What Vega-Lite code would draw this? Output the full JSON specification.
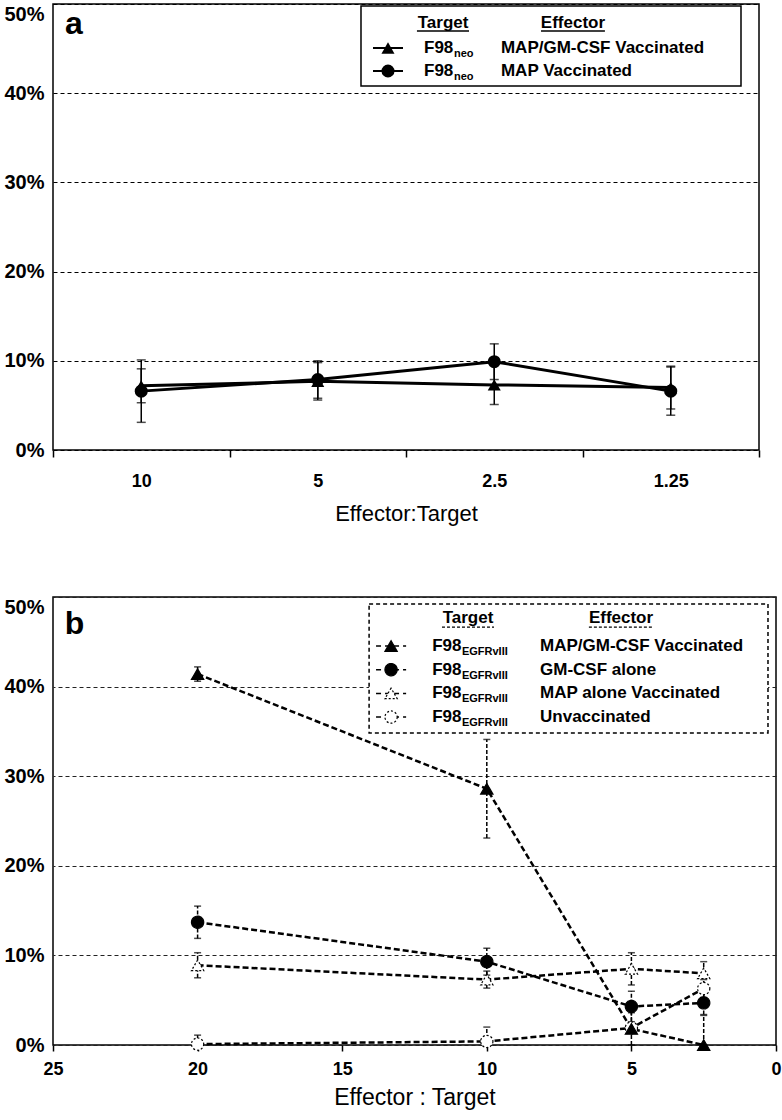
{
  "$schema": "https://vega.github.io/schema/vega-lite/v6.json",
  "padding": {"left": 3, "top": 3, "right": 0, "bottom": 0},
  "spacing": 71,
  "config": {
    "view": {"stroke": "black", "strokeWidth": 1.5},
    "font": "Liberation Sans",
    "axis": {"labelFont": "Liberation Sans", "titleFont": "Liberation Sans", "labelColor": "black", "titleColor": "black", "tickColor": "black"},
    "text": {"font": "Liberation Sans", "color": "black"}
  },
  "resolve": {"scale": {"x": "independent", "y": "independent", "shape": "independent", "fill": "independent", "strokeDash": "independent"}},
  "vconcat": [
    {
      "width": 706,
      "height": 446,
      "resolve": {"scale": {"x": "independent", "y": "independent"}},
      "layer": [
        {
          "data": {"values": [
            {"ratio": "10", "series": "MAP/GM-CSF Vaccinated", "value": 7.2, "err": 1.9},
            {"ratio": "5", "series": "MAP/GM-CSF Vaccinated", "value": 7.7, "err": 2.1},
            {"ratio": "2.5", "series": "MAP/GM-CSF Vaccinated", "value": 7.3, "err": 2.2},
            {"ratio": "1.25", "series": "MAP/GM-CSF Vaccinated", "value": 7.0, "err": 2.4},
            {"ratio": "10", "series": "MAP Vaccinated", "value": 6.6, "err": 3.5},
            {"ratio": "5", "series": "MAP Vaccinated", "value": 7.9, "err": 2.1},
            {"ratio": "2.5", "series": "MAP Vaccinated", "value": 9.9, "err": 2.0},
            {"ratio": "1.25", "series": "MAP Vaccinated", "value": 6.6, "err": 2.7}
          ]},
          "encoding": {
            "x": {
              "field": "ratio", "type": "ordinal", "sort": ["10", "5", "2.5", "1.25"],
              "scale": {"type": "band", "paddingInner": 0, "paddingOuter": 0},
              "axis": {"title": "Effector:Target", "tickBand": "extent", "labelAngle": 0, "labelFontWeight": "bold", "labelFontSize": 18, "tickSize": 7, "tickWidth": 1.5, "labelPadding": 15, "titleFontSize": 22, "titleFontWeight": "normal", "titlePadding": 13, "domain": false, "grid": false}
            }
          },
          "layer": [
            {
              "mark": {"type": "errorbar", "ticks": {"size": 9, "thickness": 1.5, "color": "black"}, "rule": {"strokeWidth": 1.5, "color": "black"}},
              "encoding": {
                "y": {"field": "value", "type": "quantitative", "scale": {"domain": [0, 50], "nice": false, "zero": true, "clamp": true},
                  "axis": {"title": null, "values": [0, 10, 20, 30, 40, 50], "labelExpr": "datum.value + '%'", "ticks": false, "domain": false, "labelPadding": 9, "labelFontSize": 20, "labelFontWeight": "bold",
                    "labelBaseline": {"condition": {"test": "datum.value >= 50", "value": "top"}, "value": "middle"},
                    "grid": true, "gridDash": [4, 3], "gridColor": "black", "gridWidth": 1}},
                "yError": {"field": "err"}
              }
            },
            {
              "mark": {"type": "line", "color": "black", "strokeWidth": 3},
              "encoding": {
                "y": {"field": "value", "type": "quantitative"},
                "detail": {"field": "series"}
              }
            },
            {
              "mark": {"type": "point", "filled": true, "color": "black", "size": 170, "opacity": 1},
              "encoding": {
                "y": {"field": "value", "type": "quantitative"},
                "shape": {"field": "series", "type": "nominal", "scale": {"domain": ["MAP/GM-CSF Vaccinated", "MAP Vaccinated"], "range": ["triangle-up", "circle"]}, "legend": null}
              }
            }
          ]
        },
        {
          "data": {"values": [
            {"row": 1, "series": "MAP/GM-CSF Vaccinated", "target": "F98", "sub": "neo", "effector": "MAP/GM-CSF Vaccinated"},
            {"row": 2, "series": "MAP Vaccinated", "target": "F98", "sub": "neo", "effector": "MAP Vaccinated"}
          ]},
          "layer": [
            {
              "data": {"values": [{"label": "legend"}]},
              "mark": {"type": "rect", "fill": "white", "stroke": "black", "strokeWidth": 1.5},
              "encoding": {
                "x": {"datum": 1.745, "type": "quantitative", "scale": {"domain": [0, 4], "nice": false, "zero": false}, "axis": null},
                "x2": {"datum": 3.898},
                "y": {"datum": -0.826, "type": "quantitative", "scale": {"domain": [-0.913, 18.478], "reverse": true, "nice": false, "zero": false}, "axis": null},
                "y2": {"datum": 2.652}
              }
            },
            {
              "data": {"values": [{"label": "a"}]},
              "mark": {"type": "text", "fontSize": 32, "fontWeight": "bold", "align": "left", "baseline": "alphabetic"},
              "encoding": {
                "x": {"datum": 0.068, "type": "quantitative"},
                "y": {"datum": 0.391, "type": "quantitative"},
                "text": {"field": "label"}
              }
            },
            {
              "data": {"values": [{"label": "Target"}]},
              "mark": {"type": "text", "fontSize": 17, "fontWeight": "bold", "align": "center", "baseline": "middle"},
              "encoding": {
                "x": {"datum": 2.21, "type": "quantitative"},
                "y": {"datum": -0.087, "type": "quantitative"},
                "text": {"field": "label"}
              }
            },
            {
              "data": {"values": [{"label": "Target"}]},
              "mark": {"type": "rule", "color": "black", "strokeWidth": 1.3},
              "encoding": {
                "x": {"datum": 2.062, "type": "quantitative"},
                "x2": {"datum": 2.357},
                "y": {"datum": 0.26, "type": "quantitative"}
              }
            },
            {
              "data": {"values": [{"label": "Effector"}]},
              "mark": {"type": "text", "fontSize": 17, "fontWeight": "bold", "align": "center", "baseline": "middle"},
              "encoding": {
                "x": {"datum": 2.946, "type": "quantitative"},
                "y": {"datum": -0.087, "type": "quantitative"},
                "text": {"field": "label"}
              }
            },
            {
              "data": {"values": [{"label": "Effector"}]},
              "mark": {"type": "rule", "color": "black", "strokeWidth": 1.3},
              "encoding": {
                "x": {"datum": 2.765, "type": "quantitative"},
                "x2": {"datum": 3.127},
                "y": {"datum": 0.26, "type": "quantitative"}
              }
            },
            {
              "mark": {"type": "rule", "color": "black", "strokeWidth": 2},
              "encoding": {
                "x": {"datum": 1.813, "type": "quantitative"},
                "x2": {"datum": 1.983},
                "y": {"field": "row", "type": "quantitative"}
              }
            },
            {
              "mark": {"type": "point", "filled": true, "color": "black", "size": 170, "opacity": 1},
              "encoding": {
                "x": {"datum": 1.898, "type": "quantitative"},
                "y": {"field": "row", "type": "quantitative"},
                "shape": {"field": "series", "type": "nominal", "legend": null}
              }
            },
            {
              "mark": {"type": "text", "fontSize": 17, "fontWeight": "bold", "align": "left", "baseline": "middle"},
              "encoding": {
                "x": {"datum": 2.102, "type": "quantitative"},
                "y": {"field": "row", "type": "quantitative"},
                "text": {"field": "target"}
              }
            },
            {
              "mark": {"type": "text", "fontSize": 11, "fontWeight": "bold", "align": "left", "baseline": "middle", "dy": 6},
              "encoding": {
                "x": {"datum": 2.272, "type": "quantitative"},
                "y": {"field": "row", "type": "quantitative"},
                "text": {"field": "sub"}
              }
            },
            {
              "mark": {"type": "text", "fontSize": 17, "fontWeight": "bold", "align": "left", "baseline": "middle"},
              "encoding": {
                "x": {"datum": 2.538, "type": "quantitative"},
                "y": {"field": "row", "type": "quantitative"},
                "text": {"field": "effector"}
              }
            }
          ]
        }
      ]
    },
    {
      "width": 723,
      "height": 448,
      "resolve": {"scale": {"y": "independent"}},
      "layer": [
        {
          "data": {"values": [
            {"ratio": 20, "series": "Unvaccinated", "value": 0.1, "err": 1.0},
            {"ratio": 10, "series": "Unvaccinated", "value": 0.4, "err": 1.6},
            {"ratio": 5, "series": "Unvaccinated", "value": 1.9, "err": 0.5},
            {"ratio": 2.5, "series": "Unvaccinated", "value": 6.3, "err": 1.0},
            {"ratio": 20, "series": "MAP alone Vaccinated", "value": 8.9, "err": 1.4},
            {"ratio": 10, "series": "MAP alone Vaccinated", "value": 7.3, "err": 0.95},
            {"ratio": 5, "series": "MAP alone Vaccinated", "value": 8.5, "err": 1.8},
            {"ratio": 2.5, "series": "MAP alone Vaccinated", "value": 8.0, "err": 1.3},
            {"ratio": 20, "series": "GM-CSF alone", "value": 13.7, "err": 1.8},
            {"ratio": 10, "series": "GM-CSF alone", "value": 9.3, "err": 1.5},
            {"ratio": 5, "series": "GM-CSF alone", "value": 4.3, "err": 1.7},
            {"ratio": 2.5, "series": "GM-CSF alone", "value": 4.7, "err": 1.3},
            {"ratio": 20, "series": "MAP/GM-CSF Vaccinated", "value": 41.4, "err": 0.8},
            {"ratio": 10, "series": "MAP/GM-CSF Vaccinated", "value": 28.6, "err": 5.5},
            {"ratio": 5, "series": "MAP/GM-CSF Vaccinated", "value": 1.8, "err": 1.8},
            {"ratio": 2.5, "series": "MAP/GM-CSF Vaccinated", "value": 0.0, "err": 3.3}
          ]},
          "encoding": {
            "x": {
              "field": "ratio", "type": "quantitative",
              "scale": {"domain": [0, 25], "reverse": true, "nice": false, "zero": false},
              "axis": {"title": "Effector : Target", "values": [0, 5, 10, 15, 20, 25], "labelFlush": false, "grid": false, "domain": false, "tickSize": 6, "tickWidth": 1.5, "labelPadding": 9, "labelFontSize": 18, "labelFontWeight": "bold", "titleFontSize": 23, "titleFontWeight": "normal", "titlePadding": 8}
            }
          },
          "layer": [
            {
              "mark": {"type": "errorbar", "ticks": {"size": 7, "thickness": 1.5, "color": "black"}, "rule": {"strokeWidth": 1.5, "color": "black", "strokeDash": [4, 2]}},
              "encoding": {
                "y": {"field": "value", "type": "quantitative", "scale": {"domain": [0, 50], "nice": false, "zero": true, "clamp": true},
                  "axis": {"title": null, "values": [0, 10, 20, 30, 40, 50], "labelExpr": "datum.value + '%'", "ticks": false, "domain": false, "labelPadding": 9, "labelFontSize": 20, "labelFontWeight": "bold",
                    "labelBaseline": {"condition": {"test": "datum.value >= 50", "value": "top"}, "value": "middle"},
                    "grid": true, "gridDash": [4, 3], "gridColor": "#222222", "gridWidth": 1}},
                "yError": {"field": "err"}
              }
            },
            {
              "mark": {"type": "line", "color": "black", "strokeWidth": 2.5, "strokeDash": [6, 3]},
              "encoding": {
                "y": {"field": "value", "type": "quantitative"},
                "detail": {"field": "series"}
              }
            },
            {
              "mark": {"type": "point", "filled": true, "stroke": "black", "strokeWidth": 1.2, "size": 150, "opacity": 1},
              "encoding": {
                "y": {"field": "value", "type": "quantitative"},
                "shape": {"field": "series", "type": "nominal", "scale": {"domain": ["MAP/GM-CSF Vaccinated", "GM-CSF alone", "MAP alone Vaccinated", "Unvaccinated"], "range": ["triangle-up", "circle", "triangle-up", "circle"]}, "legend": null},
                "fill": {"field": "series", "type": "nominal", "scale": {"domain": ["MAP/GM-CSF Vaccinated", "GM-CSF alone", "MAP alone Vaccinated", "Unvaccinated"], "range": ["black", "black", "white", "white"]}, "legend": null},
                "strokeDash": {"field": "series", "type": "nominal", "scale": {"domain": ["MAP/GM-CSF Vaccinated", "GM-CSF alone", "MAP alone Vaccinated", "Unvaccinated"], "range": [[1, 0], [1, 0], [2, 2], [2, 2]]}, "legend": null}
              }
            }
          ]
        },
        {
          "data": {"values": [
            {"row": 1, "series": "MAP/GM-CSF Vaccinated", "target": "F98", "sub": "EGFRvIII", "effector": "MAP/GM-CSF Vaccinated"},
            {"row": 2, "series": "GM-CSF alone", "target": "F98", "sub": "EGFRvIII", "effector": "GM-CSF alone"},
            {"row": 3, "series": "MAP alone Vaccinated", "target": "F98", "sub": "EGFRvIII", "effector": "MAP alone Vaccinated"},
            {"row": 4, "series": "Unvaccinated", "target": "F98", "sub": "EGFRvIII", "effector": "Unvaccinated"}
          ]},
          "layer": [
            {
              "data": {"values": [{"label": "legend"}]},
              "mark": {"type": "rect", "fill": "white", "stroke": "black", "strokeWidth": 1.5, "strokeDash": [4, 3]},
              "encoding": {
                "x": {"datum": 14.07, "type": "quantitative"},
                "x2": {"datum": 0.277},
                "y": {"datum": -0.772, "type": "quantitative", "scale": {"domain": [-1.067, 17.836], "reverse": true, "nice": false, "zero": false}, "axis": null},
                "y2": {"datum": 4.67}
              }
            },
            {
              "data": {"values": [{"label": "b"}]},
              "mark": {"type": "text", "fontSize": 32, "fontWeight": "bold", "align": "left", "baseline": "alphabetic"},
              "encoding": {
                "x": {"datum": 24.59, "type": "quantitative"},
                "y": {"datum": 0.515, "type": "quantitative"},
                "text": {"field": "label"}
              }
            },
            {
              "data": {"values": [{"label": "Target"}]},
              "mark": {"type": "text", "fontSize": 17, "fontWeight": "bold", "align": "center", "baseline": "middle"},
              "encoding": {
                "x": {"datum": 10.65, "type": "quantitative"},
                "y": {"datum": -0.18, "type": "quantitative"},
                "text": {"field": "label"}
              }
            },
            {
              "data": {"values": [{"label": "Target"}]},
              "mark": {"type": "rule", "color": "black", "strokeWidth": 1.3, "strokeDash": [3, 2]},
              "encoding": {
                "x": {"datum": 11.55, "type": "quantitative"},
                "x2": {"datum": 9.75},
                "y": {"datum": 0.2, "type": "quantitative"}
              }
            },
            {
              "data": {"values": [{"label": "Effector"}]},
              "mark": {"type": "text", "fontSize": 17, "fontWeight": "bold", "align": "center", "baseline": "middle"},
              "encoding": {
                "x": {"datum": 5.36, "type": "quantitative"},
                "y": {"datum": -0.18, "type": "quantitative"},
                "text": {"field": "label"}
              }
            },
            {
              "data": {"values": [{"label": "Effector"}]},
              "mark": {"type": "rule", "color": "black", "strokeWidth": 1.3, "strokeDash": [3, 2]},
              "encoding": {
                "x": {"datum": 6.47, "type": "quantitative"},
                "x2": {"datum": 4.25},
                "y": {"datum": 0.2, "type": "quantitative"}
              }
            },
            {
              "mark": {"type": "rule", "color": "black", "strokeWidth": 1.5, "strokeDash": [5, 4]},
              "encoding": {
                "x": {"datum": 13.83, "type": "quantitative"},
                "x2": {"datum": 12.79},
                "y": {"field": "row", "type": "quantitative"}
              }
            },
            {
              "mark": {"type": "point", "filled": true, "stroke": "black", "strokeWidth": 1.2, "size": 150, "opacity": 1},
              "encoding": {
                "x": {"datum": 13.31, "type": "quantitative"},
                "y": {"field": "row", "type": "quantitative"},
                "shape": {"field": "series", "type": "nominal", "legend": null},
                "fill": {"field": "series", "type": "nominal", "legend": null},
                "strokeDash": {"field": "series", "type": "nominal", "legend": null}
              }
            },
            {
              "mark": {"type": "text", "fontSize": 17, "fontWeight": "bold", "align": "left", "baseline": "middle"},
              "encoding": {
                "x": {"datum": 11.89, "type": "quantitative"},
                "y": {"field": "row", "type": "quantitative"},
                "text": {"field": "target"}
              }
            },
            {
              "mark": {"type": "text", "fontSize": 11, "fontWeight": "bold", "align": "left", "baseline": "middle", "dy": 6},
              "encoding": {
                "x": {"datum": 10.86, "type": "quantitative"},
                "y": {"field": "row", "type": "quantitative"},
                "text": {"field": "sub"}
              }
            },
            {
              "mark": {"type": "text", "fontSize": 17, "fontWeight": "bold", "align": "left", "baseline": "middle"},
              "encoding": {
                "x": {"datum": 8.16, "type": "quantitative"},
                "y": {"field": "row", "type": "quantitative"},
                "text": {"field": "effector"}
              }
            }
          ]
        }
      ]
    }
  ]
}
